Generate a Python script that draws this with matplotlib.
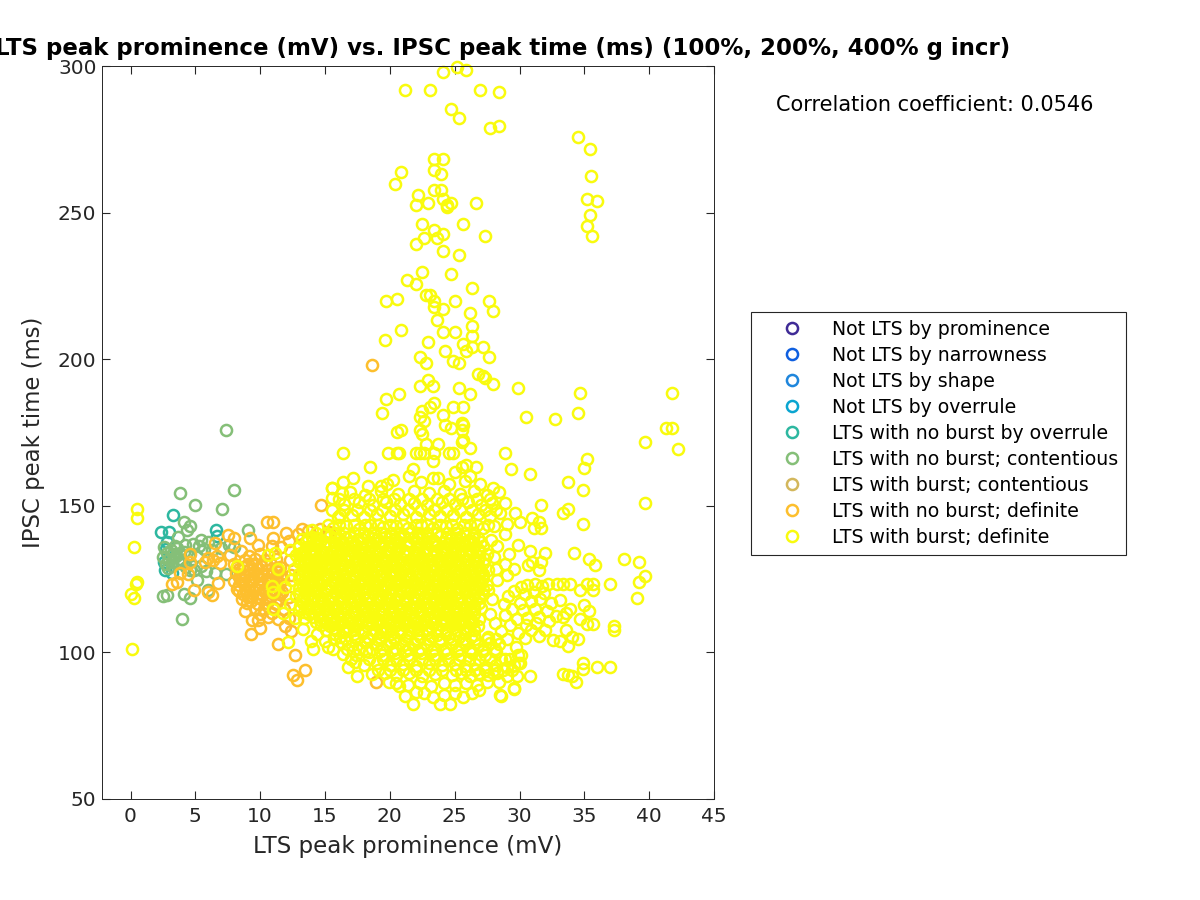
import matplotlib
matplotlib.use("Agg")
import matplotlib.pyplot as plt

# values: (LTS peak prominence, IPSC peak time)
burst_def_top = [
    (24.09,298.1),(25.2,299.5),(25.86,298.7),(21.18,291.7),(23.1,291.7),(26.97,291.7),(28.4,291),
    (24.73,285.2),(25.37,282.4),(27.76,278.9),(28.4,279.5),(23.44,268.3),(24.09,268.3),(23.44,264.6),
    (23.93,263.3),(20.87,263.9),(20.39,259.6),(23.44,257.6),(23.93,257.6),(22.16,256.1),(24.09,254.7),
    (24.73,253.3),(24.4,252.6),(24.42,251.8),(22.95,253.3),(21.98,252.6),(26.66,253.3),(22.47,246.2),
    (25.68,246.2),(23.44,244),(24.09,242.7),(23.63,241.2),(22.65,241.2),(27.3,241.9),(21.98,239.2),
    (24.09,237),(25.37,235.5),(22.47,229.8),(24.73,229.2),(21.34,227),(21.98,225.6),(26.33,224.2),
    (22.78,222),(23.11,222),(23.44,220),(19.74,220),(20.54,220.6),(25.04,220),(27.61,220),(24.09,217.1),
    (23.44,217.8),(27.95,216.3),(26.17,215.6),(23.6,213.5),(26.33,211.4),(20.87,210),(24.09,209.3),
    (25.04,209.3),(26.33,207.9),(19.59,206.4),(22.95,205.8),(25.68,205.1),(26.33,204.3),(27.15,204.3),
    (24.24,202.9),(25.84,202.9),(22.31,200.8),(27.61,200.8),(22.8,198.6),(24.88,199.4),(25.37,198.6),
    (26.81,195),(27.15,194.4),(27.3,193.7),(27.95,191.5),(22.95,192.9),(22.31,190.9),(23.29,190.9),
    (25.37,190.2),(29.87,190.2),(26.17,188),(20.72,188),(19.74,186.5),(23.44,185.2),(23.11,183.8),
    (24.88,183.8),(25.68,183.8),(22.47,182.3),(19.43,181.5),(24.09,181),(22.31,180.2),(30.52,180.2),
    (32.75,179.5),(22.65,178.8),(25.53,178.1),(25.68,177.5),(24.24,177.5),(24.73,176.6),(25.53,176),
    (20.87,176),(20.54,175.2),(22.31,176),(22.47,174.6),(25.68,172.4),(25.53,171.8),(22.8,171),
    (23.75,171.1),(26.17,169.6),(16.37,168.1),(19.89,168.1),(20.54,168.1),(20.72,168.1),(22.0,168.1),
    (22.31,168.1),(22.65,168.1),(23.44,168.1),(24.55,168.1),(24.88,168.1),(28.9,168.1),(23.29,165.3),
    (25.86,164),(25.53,163.4),(18.46,163.1),(21.82,162.4),(29.38,162.4),(30.83,161),(26.66,163.1),
    (17.17,159.6),(16.37,158.2),(20.23,158.9),(21.51,160.3),(23.29,159.6),(23.75,159.6),(25.04,161.6),
    (26.17,160.3),(26.97,157.5),(27.95,156),(15.57,156),(18.3,156.8),(19.28,156.8),
]
burst_def_right = [
    (34.5,275.8),(35.4,271.7),(35.5,262.5),(35.2,254.6),(36,254),(35.4,249.2),(35.2,245.4),(35.6,242),
    (34.68,188.6),(41.76,188.6),(34.53,181.5),(41.27,176.5),(41.76,176.5),(39.67,171.7),(42.25,169.5),
    (35.17,165.9),(35,163),(33.73,158.1),(34.86,155.3),(39.67,151),(31.65,150.3),(33.73,148.9),
    (33.39,147.4),(29.69,147.4),(30.98,146),(30.03,144.6),(31.47,144.6),(29.05,143.9),(34.86,143.9),
    (31.13,142.4),(31.65,142.4),(28.9,140.4),(29.87,136.7),(30.83,134.7),(31.96,133.9),(34.2,133.9),
    (35.33,131.8),(35.82,129.7),(38.08,131.8),(39.18,131),(39.67,126.2),(39.18,124),(39.03,118.4),
    (36.95,123.3),(35.17,123.3),(35.67,123.3),(34.68,121.2),(35.67,121.2),(33.89,123.3),(33.39,123.3),
    (32.93,123.3),(31.47,128.1),(31.65,131),(31,131),(30.67,129.8),(35,116.2),(35.33,114.1),(34.68,111.3),
    (35.17,109.8),(35.67,109.8),(37.25,109.1),(37.25,107.6),(34.53,104.5),(34.05,105.2),(33.73,102.3),
    (33.09,103.8),(32.6,104.1),(33.09,118),(33.89,114.8),(33.39,112),(33.58,113.3),(33.58,107.6),
    (34.86,96.3),(34.86,94.2),(36.01,95),(36.95,95),(33.39,92.7),(33.73,92.4),(34.05,92),(34.39,89.9),
    (30.83,92),(29.54,87.7),(28.5,85.5),
    (32.2,123.2),(31.7,122.6),(31.2,123.4),(30.6,123.1),(30.1,122.2),(31.9,120.3),(31.1,120.6),(30.4,119.9),
    (29.6,121),(29.1,119.1),(31.6,118.2),(30.9,117.4),(30,117),(32.4,117),(28.8,116.6),(29.4,114.8),
    (30.3,114.3),(31.2,114.7),(32.1,114),(32.8,112.4),(31.5,112.2),(30.6,111.8),(29.8,111.4),(28.9,112.6),
    (32.3,110.6),(31.3,110),(30.5,109.4),(29.3,109.2),(30.9,107.8),(32,107.6),(28.6,107.4),(29.9,106.6),
    (31.5,105.6),(30.4,104.8),(29,104.6),(28.4,103),(29.7,102),(30.1,99.2),(29.9,96.4),(28.9,97.8),
    (27.6,121.4),(28.3,124.6),(29,126.4),(28.2,128.4),(28.9,130.2),(28,132.6),(29.2,133.6),(28.3,136.2),
    (27.8,138.2),(29.6,128.4),(27.9,118.2),(27.7,113),(28.1,110),(27.6,105.2),
]
burst_def_left = [
    (0.48,148.8),(0.48,146),(0.27,136),(0.48,124.1),(0.42,123.3),(0.01,119.8),(0.27,118.4),(0.12,101.3),
    (8.2,129.5),(10.63,133.2),(11.15,133.8),(12.3,134.9),(11.4,128.3),(10.9,122.7),(11,120.7),(11.92,122.4),
    (11.02,114.7),(11.79,113.3),(12.18,103.6),(14.1,101),(15.5,156),(15.5,152.5),(16.3,154.2),(16.17,146.9),
    (13.98,141.7),(12.6,128.6),(12.4,124.6),(12.8,119.4),(12.3,116.4),(12.7,111.8),(13,133.4),(13.3,108),
    (13.9,103.8),(14.4,106.4),(15,104),
]
burst_def_core = [
    (13.2,138.6),(14.0,139.4),(14.7,138.4),(15.4,139.6),(16.1,138.8),(16.9,139.5),(17.5,138.5),(18.3,139.7),(19.0,138.7),(19.6,139.3),(20.4,138.6),(21.1,139.8),(21.8,138.9),(22.5,139.2),(23.3,138.5),(23.9,139.6),(24.7,138.8),(25.4,139.3),(26.1,138.4),(26.8,139.1),
    (13.0,136.1),(13.6,135.8),(14.4,136.5),(15.1,135.9),(15.8,136.4),(16.5,135.7),(17.2,136.3),(17.9,136.0),(18.6,136.6),(19.3,135.8),(20.0,136.2),(20.8,135.9),(21.5,136.5),(22.2,136.0),(22.9,135.7),(23.6,136.4),(24.3,136.1),(25.0,135.8),(25.8,136.3),(26.5,135.9),(27.2,136.4),
    (12.8,133.2),(13.3,133.6),(14.0,132.9),(14.7,133.5),(15.4,133.1),(16.2,133.7),(16.8,133.0),(17.6,133.4),(18.3,132.8),(19.0,133.6),(19.7,133.2),(20.4,133.0),(21.1,133.6),(21.9,133.1),(22.6,133.5),(23.3,132.9),(24.0,133.4),(24.7,133.0),(25.4,133.6),(26.1,133.2),(26.9,132.9),(27.5,133.4),
    (13.0,130.9),(13.7,130.4),(14.4,130.8),(15.1,130.5),(15.8,131.0),(16.5,130.3),(17.2,130.7),(17.9,130.9),(18.7,130.4),(19.4,130.8),(20.1,130.3),(20.8,130.9),(21.5,130.5),(22.2,130.7),(22.9,130.2),(23.7,130.9),(24.4,130.4),(25.1,130.7),(25.8,130.3),(26.5,130.8),(27.2,130.5),
    (13.3,127.9),(14.0,128.3),(14.7,127.7),(15.4,128.2),(16.2,127.8),(16.9,128.4),(17.6,127.6),(18.3,128.1),(19.0,127.9),(19.7,128.4),(20.4,127.7),(21.1,128.0),(21.9,128.3),(22.6,127.6),(23.3,128.2),(24.0,127.9),(24.7,128.4),(25.4,127.7),(26.1,128.1),(26.9,127.8),(27.6,128.2),
    (13.0,125.1),(13.7,125.6),(14.4,125.0),(15.1,125.4),(15.8,125.7),(16.5,125.2),(17.3,125.5),(18.0,125.0),(18.7,125.6),(19.4,125.2),(20.1,125.7),(20.8,125.1),(21.5,125.4),(22.3,125.0),(23.0,125.6),(23.7,125.2),(24.4,125.5),(25.1,125.0),(25.8,125.6),(26.5,125.2),(27.2,125.5),
    (13.3,122.8),(14.0,122.4),(14.7,122.9),(15.4,122.3),(16.2,122.7),(16.9,122.5),(17.6,123.0),(18.3,122.4),(19.0,122.8),(19.7,122.3),(20.4,122.9),(21.2,122.5),(21.9,122.7),(22.6,122.2),(23.3,122.9),(24.0,122.4),(24.7,122.8),(25.4,122.3),(26.1,122.7),(26.9,122.4),(27.5,122.9),
    (13.0,120.1),(13.7,119.7),(14.4,120.2),(15.1,119.8),(15.8,120.3),(16.6,119.6),(17.3,120.0),(18.0,119.8),(18.7,120.2),(19.4,119.6),(20.1,120.1),(20.8,119.7),(21.5,120.3),(22.3,119.8),(23.0,120.0),(23.7,119.6),(24.4,120.2),(25.1,119.8),(25.8,120.1),(26.5,119.6),(27.2,120.0),
    (13.3,117.0),(14.0,117.5),(14.7,117.1),(15.4,117.6),(16.2,116.9),(16.9,117.3),(17.6,117.5),(18.3,117.0),(19.0,117.4),(19.7,116.9),(20.4,117.5),(21.2,117.1),(21.9,117.3),(22.6,116.8),(23.3,117.5),(24.0,117.0),(24.7,117.4),(25.4,116.9),(26.1,117.3),(26.9,117.0),
    (13.0,114.4),(13.7,114.8),(14.4,114.3),(15.1,114.7),(15.8,114.4),(16.6,114.9),(17.3,114.2),(18.0,114.6),(18.7,114.4),(19.4,114.8),(20.1,114.2),(20.8,114.5),(21.6,114.7),(22.3,114.3),(23.0,114.8),(23.7,114.4),(24.4,114.6),(25.1,114.2),(25.8,114.7),(26.5,114.3),
    (13.4,111.6),(14.1,112.1),(14.8,111.7),(15.5,112.0),(16.2,111.5),(16.9,111.9),(17.7,111.6),(18.4,112.1),(19.1,111.5),(19.8,111.8),(20.5,112.0),(21.2,111.6),(21.9,111.9),(22.7,111.4),(23.4,112.0),(24.1,111.6),(24.8,111.9),(25.5,111.5),(26.2,111.9),(26.9,111.4),
    (14.7,109.4),(15.4,108.9),(16.1,109.3),(16.8,108.8),(17.5,109.2),(18.2,109.0),(19.0,109.4),(19.7,108.8),(20.4,109.1),(21.1,109.4),(21.8,108.9),(22.5,109.2),(23.2,108.7),(24.0,109.3),(24.7,108.9),(25.4,109.2),(26.1,108.8),(26.8,109.1),
    (15.8,106.4),(16.5,106.8),(17.2,106.2),(17.9,106.6),(18.6,106.3),(19.3,106.8),(20.1,106.2),(20.8,106.5),(21.5,106.7),(22.2,106.3),(22.9,106.6),(23.6,106.1),(24.3,106.7),(25.0,106.3),(25.8,106.5),(26.5,106.1),
]
burst_def_upper = [
    (15.6,142.4),(16.6,143.2),(17.6,142.2),(18.5,143.5),(19.5,142.6),(20.5,143.1),(21.4,142.3),(22.4,143.4),(23.3,142.5),(24.3,143.0),(25.2,142.2),(26.2,143.3),(27.2,142.4),(28.0,143.2),
    (16.0,146.2),(17.1,147.0),(18.0,146.3),(19.0,147.3),(20.0,146.4),(21.0,147.1),(22.0,146.2),(23.0,147.2),(23.9,146.5),(24.9,147.0),(25.9,146.3),(26.8,147.2),(27.7,146.4),(28.5,147.6),
    (16.5,150.5),(17.6,151.2),(18.7,150.3),(19.7,151.4),(20.8,150.6),(21.9,151.1),(22.9,150.2),(24.0,151.3),(25.0,150.5),(26.0,151.2),(27.0,150.4),(27.9,151.0),(28.9,150.8),
    (16.9,154.6),(18.1,153.8),(19.3,154.9),(20.6,154.1),(21.9,155.0),(23.0,154.2),(24.2,155.2),(25.4,154.0),(26.5,155.0),(27.5,153.6),(28.4,154.6),
    (19.8,157.6),(22.4,158),(24.6,157.4),(25.8,158.4),
]
burst_def_lower = [
    (16.8,95),(17.3,96.8),(17.5,92),(19.95,90),(20.72,88.6),(21.18,85),(21.82,82.4),(22.65,86),(23.29,84.7),
    (23.88,82.4),(24.65,82.4),(25.68,84.7),(26.33,86),(28.59,85),(29.54,87.5),(30.05,96.3),(29.92,99),
    (15.2,102),(16.2,103.4),(17.1,102.6),(18.1,103.5),(19.0,102.7),(20.0,103.4),(21.0,102.5),(21.9,103.3),(22.9,102.6),(23.8,103.5),(24.8,102.7),(25.8,103.2),(26.8,102.4),(27.7,103.1),
    (16.4,99.6),(17.4,99.1),(18.4,100),(19.4,99.2),(20.4,99.8),(21.4,99),(22.4,99.7),(23.4,99.1),(24.4,99.8),(25.4,99.2),(26.3,99.7),(27.3,99.1),(28.2,100),
    (18.0,95.8),(19.0,96.4),(20.0,95.6),(21.0,96.2),(22.0,95.5),(23.0,96.3),(24.0,95.7),(25.0,96.1),(25.8,95.2),(26.6,95.9),(27.4,95.1),(28.2,95.8),(29.0,95),(29.6,95.8),
    (18.6,92.5),(19.6,93),(20.5,92.2),(21.5,92.9),(22.5,92),(23.5,92.7),(24.8,92.2),(25.5,93),(26.2,92.1),(26.9,92.9),(27.6,92.2),(28.3,93),(29,92.1),(29.8,91.8),
    (20.5,89.4),(21.4,89),(22.3,89.6),(23.2,88.6),(24.2,89.4),(25,88.8),(25.9,89.5),(26.7,88.9),(27.5,89.8),(28.4,90),
    (22,86.4),(24.2,85.6),(25,86.2),(26.9,87.2),
]
# second pass over the solid part of the cloud, one y per row
burst_rows_y = [140.8, 137.5, 134.7, 132.0, 129.4, 126.7, 124.2, 121.5, 118.7, 115.9, 113.1, 110.4, 107.7,
                104.6, 101.2, 97.6, 94.1]
burst_rows_x = [
    [14.3,15.1,15.8,16.5,17.2,18.0,18.7,19.3,20.1,20.8,21.5,22.2,22.9,23.6,24.4,25.1,25.8,26.5],
    [13.5,14.3,15.0,15.7,16.4,17.1,17.8,18.5,19.2,20.0,20.7,21.4,22.1,22.8,23.5,24.2,25.1,25.7,26.4,27.0],
    [13.4,14.1,14.8,15.5,16.3,17.0,17.7,18.4,19.1,19.8,20.5,21.2,21.9,22.7,23.4,24.1,24.8,25.5,26.2,26.9],
    [13.1,13.8,14.5,15.2,15.9,16.6,17.4,18.0,18.8,19.5,20.2,20.9,21.6,22.3,23.0,23.7,24.5,25.2,25.9,26.6,27.3],
    [13.3,14.1,14.7,15.5,16.2,16.9,17.6,18.3,19.0,19.7,20.4,21.2,21.9,22.6,23.3,24.0,24.7,25.4,26.1,26.8],
    [13.0,13.7,14.4,15.1,15.8,16.5,17.3,18.0,18.7,19.4,20.1,20.8,21.5,22.2,23.0,23.7,24.4,25.1,25.8,26.5,27.2],
    [13.4,14.1,14.8,15.5,16.2,17.0,17.7,18.4,19.1,19.8,20.5,21.2,21.9,22.7,23.4,24.1,24.8,25.5,26.2,26.9],
    [13.0,13.7,14.4,15.1,15.9,16.6,17.3,18.0,18.7,19.4,20.1,20.8,21.6,22.3,23.0,23.7,24.4,25.1,25.8,26.5,27.2],
    [13.4,14.1,14.8,15.5,16.2,16.9,17.6,18.3,19.1,19.8,20.5,21.2,21.9,22.6,23.3,24.0,24.7,25.5,26.2,26.9],
    [13.1,13.8,14.5,15.2,15.9,16.6,17.3,18.0,18.8,19.5,20.2,20.9,21.6,22.3,23.0,23.7,24.4,25.1,25.8,26.5],
    [13.8,14.5,15.2,15.9,16.5,17.3,18.0,18.7,19.4,20.1,20.8,21.5,22.3,23.0,23.7,24.4,25.1,25.8,26.5],
    [14.3,15.0,15.7,16.4,17.1,17.8,18.6,19.3,20.0,20.7,21.4,22.1,22.8,23.5,24.3,25.0,25.7,26.4],
    [15.1,15.8,16.5,17.2,17.9,18.7,19.4,20.1,20.8,21.5,22.2,22.9,23.6,24.3,25.1,25.8,26.5],
    [15.7,16.6,17.5,18.4,19.3,20.3,21.2,22.1,23.0,23.9,24.8,25.7,26.6,27.5,28.2],
    [15.6,16.7,17.6,18.6,19.5,20.5,21.5,22.4,23.4,24.3,25.3,26.2,27.2,28.1],
    [17.0,18.4,19.5,20.5,21.5,22.5,23.5,24.5,25.3,26.1,26.9,27.7,28.6,29.3],
    [19.1,20.0,21,22,23,24,25.1,25.9,26.6,27.3,28,28.7,29.4],
]
# third pass, middle of the cloud
burst_mid_y = [143.6, 139.0, 135.2, 131.4, 127.4, 123.6, 119.2, 115.2, 111.0, 148.4, 152.2]
burst_mid_x = [
    [15.2,16.1,17.2,18.1,19.1,20,21,22,22.9,23.9,24.8,25.7,26.7,27.6],
    [13.7,14.4,15.8,16.6,17.8,18.7,19.9,20.8,22.1,23,24.3,25.1,26.4],
    [13.9,14.6,15.9,16.7,17.9,18.8,19.9,20.7,22,22.9,24,24.9,26,26.8],
    [13.4,14.2,15.5,16.2,17.6,18.4,19.7,20.5,21.8,22.6,23.9,24.8,26,26.8],
    [13.7,14.4,15.8,16.6,17.9,18.6,20,20.9,22.1,22.9,24.2,25,26.3,27],
    [13.6,14.5,15.7,16.6,17.8,18.7,20,20.8,22,22.8,24.1,25,26.3,27],
    [13.4,14.2,15.5,16.3,17.5,18.4,19.7,20.6,21.8,22.7,23.9,24.7,26,26.9],
    [13.6,14.3,15.6,16.5,17.8,18.6,19.9,20.7,22,22.8,24.1,25,26.2,27],
    [14.6,15.4,16.7,17.6,18.9,19.7,21,21.9,23.1,24,25.3,26.1],
    [15.5,16.5,17.5,18.5,19.4,20.4,21.4,22.4,23.4,24.4,25.4,26.3,27.3,28.2],
    [16.1,17.2,18.4,19.5,20.3,21.5,22.5,23.6,24.6,25.6,26.7,27.7],
]
# fourth pass, fills what is still open in the solid part
burst_fill_y = [137.0, 133.9, 130.0, 126.0, 122.0, 117.9, 113.9, 109.9, 105.4, 100.4]
burst_fill_x = [
    [14.15,15.25,16.25,17.35,18.25,19.45,20.35,21.25,22.35,23.25,24.55,25.25,26.15],
    [13.15,14.25,15.05,16.05,17.25,18.05,19.25,20.05,21.25,22.25,23.55,24.35,25.05,26.35],
    [13.45,14.25,15.35,16.15,17.45,18.35,19.15,20.25,21.25,22.55,23.25,24.15,25.35,26.25],
    [13.25,14.15,15.25,16.35,17.15,18.25,19.25,20.35,21.15,22.45,23.25,24.35,25.25,26.15],
    [13.55,14.35,15.15,16.25,17.25,18.15,19.35,20.25,21.35,22.15,23.15,24.35,25.15,26.35],
    [13.25,14.45,15.25,16.05,17.25,18.15,19.35,20.05,21.25,22.15,23.55,24.25,25.25,26.05],
    [13.35,14.15,15.35,16.25,17.15,18.35,19.15,20.35,21.15,22.45,23.25,24.15,25.35,26.25],
    [15.15,16.25,17.35,18.35,19.15,20.25,21.25,22.35,23.35,24.25,25.25,26.25],
    [16.15,17.35,18.25,19.15,20.35,21.35,22.35,23.25,24.55,25.35,26.25],
    [17.15,18.15,19.25,20.15,21.15,22.15,23.25,24.15,25.15,26.15,27.15],
]
no_burst_def = [
    (18.6,197.9),(3.18,123.2),(3.56,124.1),(4.92,121.3),(6,120.7),(6.26,119.6),(3.82,127),(4.46,126.7),(4.59,133.6),(4.59,131),
    (6,132.1),(5.75,130.9),(6.39,131.5),(6.66,132.9),(6.52,137.4),(7.55,140),(7.99,139.1),(9.22,138.9),(6.9,130.4),(7.68,133.2),
    (6.77,123.6),(8.83,114.1),(9.35,111),(9.86,111),(9.99,108.2),(9.3,106.3),(11.4,102.9),(12.69,99.1),(13.46,94),(12.56,92.3),
    (12.82,90.6),(10.5,144.6),(10.97,144.6),(14.7,150.3),(18.94,90),
    (8,130),(8.7,129.2),(9.4,130.3),(10.1,129.4),(10.8,130.2),(11.5,129.1),(8.1,127.2),(8.8,126.4),(9.5,127.4),(10.2,126.6),(10.9,127.2),(11.6,126.3),
    (8,124.3),(8.7,123.6),(9.4,124.5),(10.1,123.7),(10.8,124.4),(11.5,123.5),(8.2,121.5),(8.9,120.8),(9.6,121.6),(10.3,120.9),(11,121.5),(11.7,120.7),
    (8.6,118.2),(9.3,117.7),(10,118.4),(10.7,117.8),(11.4,118.3),(9.6,115.2),(10.3,114.8),(11,115.4),(11.8,114.8),(10.6,112),(11.4,111.4),(12.2,111.6),
    (12.4,107.4),(11.9,109),(9.1,133),(10,133.6),(10.9,136.4),(11.6,136),(12.2,138),(12.9,140.4),(13.7,141.4),(14.6,142),(15.3,141.2),(9.8,136.6),(8.5,134.6),
    (12.3,131.4),(12.4,126.4),(12.2,119),(13.2,142.2),(12,140.6),(11,139),
    (8.4,128.6),(9.1,128),(9.8,128.7),(10.5,128),(11.2,128.7),(8.4,125.8),(9.1,125.2),(9.8,125.9),(10.5,125.2),(11.2,125.8),
    (8.4,122.9),(9.1,122.3),(9.8,123),(10.5,122.3),(11.2,122.9),(8.7,120),(9.4,119.4),(10.1,120),(10.8,119.4),(11.5,119.9),
    (9,116.8),(9.8,116.4),(10.5,116.9),(11.2,116.5),(10,113.2),(10.9,113.4),(8.8,131.4),(9.6,132),(10.4,131.5),(11.2,131.8),
    (8.25,129.1),(9.05,130.2),(9.75,127.1),(10.45,130.1),(11.35,127.3),(8.55,125.1),(9.25,126.6),(10.05,124.9),(10.85,125.9),(11.75,125),
    (8.35,120.9),(9.05,118.9),(9.75,118.9),(10.55,118.9),(11.15,120.2),(9.45,121),(10.65,123.5),(11.35,122),
]
no_burst_cont = [
    (7.35,176),(3.8,154.5),(8,155.4),(4.98,150.3),(7.03,148.9),(4.13,144.6),(4.59,143.2),(4.38,141.7),(9.09,141.7),(3.69,139.5),
    (2.53,119.2),(2.84,119.5),(4.13,119.8),(4.59,118.4),(3.95,111.3),(5.15,124.7),(6,121.3),
    (2.6,136),(3.1,134.8),(3.6,135.6),(4.1,134.2),(2.5,132.6),(3,132),(3.5,133),(4,131.6),(2.7,130),(3.2,129.4),(3.7,130.4),(4.3,129.2),
    (4.8,137),(5.4,138.4),(5.3,136.4),(6,137.8),(5.7,135.4),(6.3,134.8),(7,135.6),(7.6,136.8),(5.1,133),(5.4,129.6),(4.9,128),(5.8,127.6),(6.5,127),(7.4,126.6),(8,136),
    (2.8,134),(3.3,133.4),(3.8,134),(3.2,131),(3.7,131.8),(2.9,128.8),(3.4,136.4),(4.2,136.6),(4.5,133),(4.6,128),
]
no_burst_overrule = [
    (3.3,146.9),(2.33,141.2),(2.99,141.2),(6.6,141.7),(2.8,137.6),(2.7,135.2),(2.66,128.1),(3.2,127.2),(6.7,139.8),(2.6,131),
]

burst_def = burst_def_top + burst_def_right + burst_def_left + burst_def_core + burst_def_upper + burst_def_lower
for y, xs in zip(burst_rows_y + burst_mid_y + burst_fill_y, burst_rows_x + burst_mid_x + burst_fill_x):
    burst_def = burst_def + [(x, y) for x in xs]

groups = [
    ("Not LTS by prominence", "#3f2b96", []),
    ("Not LTS by narrowness", "#0f5fe0", []),
    ("Not LTS by shape", "#1f86dc", []),
    ("Not LTS by overrule", "#0aa5d0", []),
    ("LTS with no burst by overrule", "#2db7a0", no_burst_overrule),
    ("LTS with no burst; contentious", "#85bf78", no_burst_cont),
    ("LTS with burst; contentious", "#d3b75c", []),
    ("LTS with no burst; definite", "#fdbf2d", no_burst_def),
    ("LTS with burst; definite", "#f9fb0e", burst_def),
]

dark = "#262626"
fig = plt.figure(figsize=(12, 9), dpi=100)
ax = fig.add_axes([102 / 1200, 1 - 799 / 900, (714 - 102) / 1200, (799 - 66) / 900])

for name, col, pts in groups:
    xs = [p[0] for p in pts]
    ys = [p[1] for p in pts]
    ax.plot(xs, ys, "o", mfc="none", mec=col, ms=8, mew=1.8, label=name, clip_on=False)

ax.set_xlim(-2.2, 45)
ax.set_ylim(50, 300)
ax.set_xticks(range(0, 50, 5))
ax.set_yticks([50, 100, 150, 200, 250, 300])
ax.tick_params(direction="in", top=True, right=True, length=6, width=0.8, labelsize=14.5, colors=dark, pad=4)
ax.tick_params(axis="x", pad=6)
for s in ax.spines.values():
    s.set_linewidth(0.7)
    s.set_color(dark)
ax.set_xlabel("LTS peak prominence (mV)", fontsize=16.6, color=dark, labelpad=6)
ax.set_ylabel("IPSC peak time (ms)", fontsize=16.4, color=dark, labelpad=9)

# the title runs off the left edge in the original too
fig.text(1010 / 1200, 1 - 48 / 900, "LTS peak prominence (mV) vs. IPSC peak time (ms) (100%, 200%, 400% g incr)",
         ha="right", va="center", fontsize=16.5, fontweight="bold", color="black")
fig.text(776 / 1200, 1 - 105 / 900, "Correlation coefficient: 0.0546", ha="left", va="center", fontsize=15, color="black")

leg = ax.legend(loc="upper left", bbox_to_anchor=(751 / 1200, 1 - 312 / 900), bbox_transform=fig.transFigure,
                fontsize=13.6, frameon=True, fancybox=False, framealpha=1, edgecolor=dark,
                borderaxespad=0, borderpad=0.42, labelspacing=0.37, handletextpad=0.35, handlelength=3.5, numpoints=1)
leg.get_frame().set_linewidth(0.8)

fig.savefig("out.png", dpi=100)
